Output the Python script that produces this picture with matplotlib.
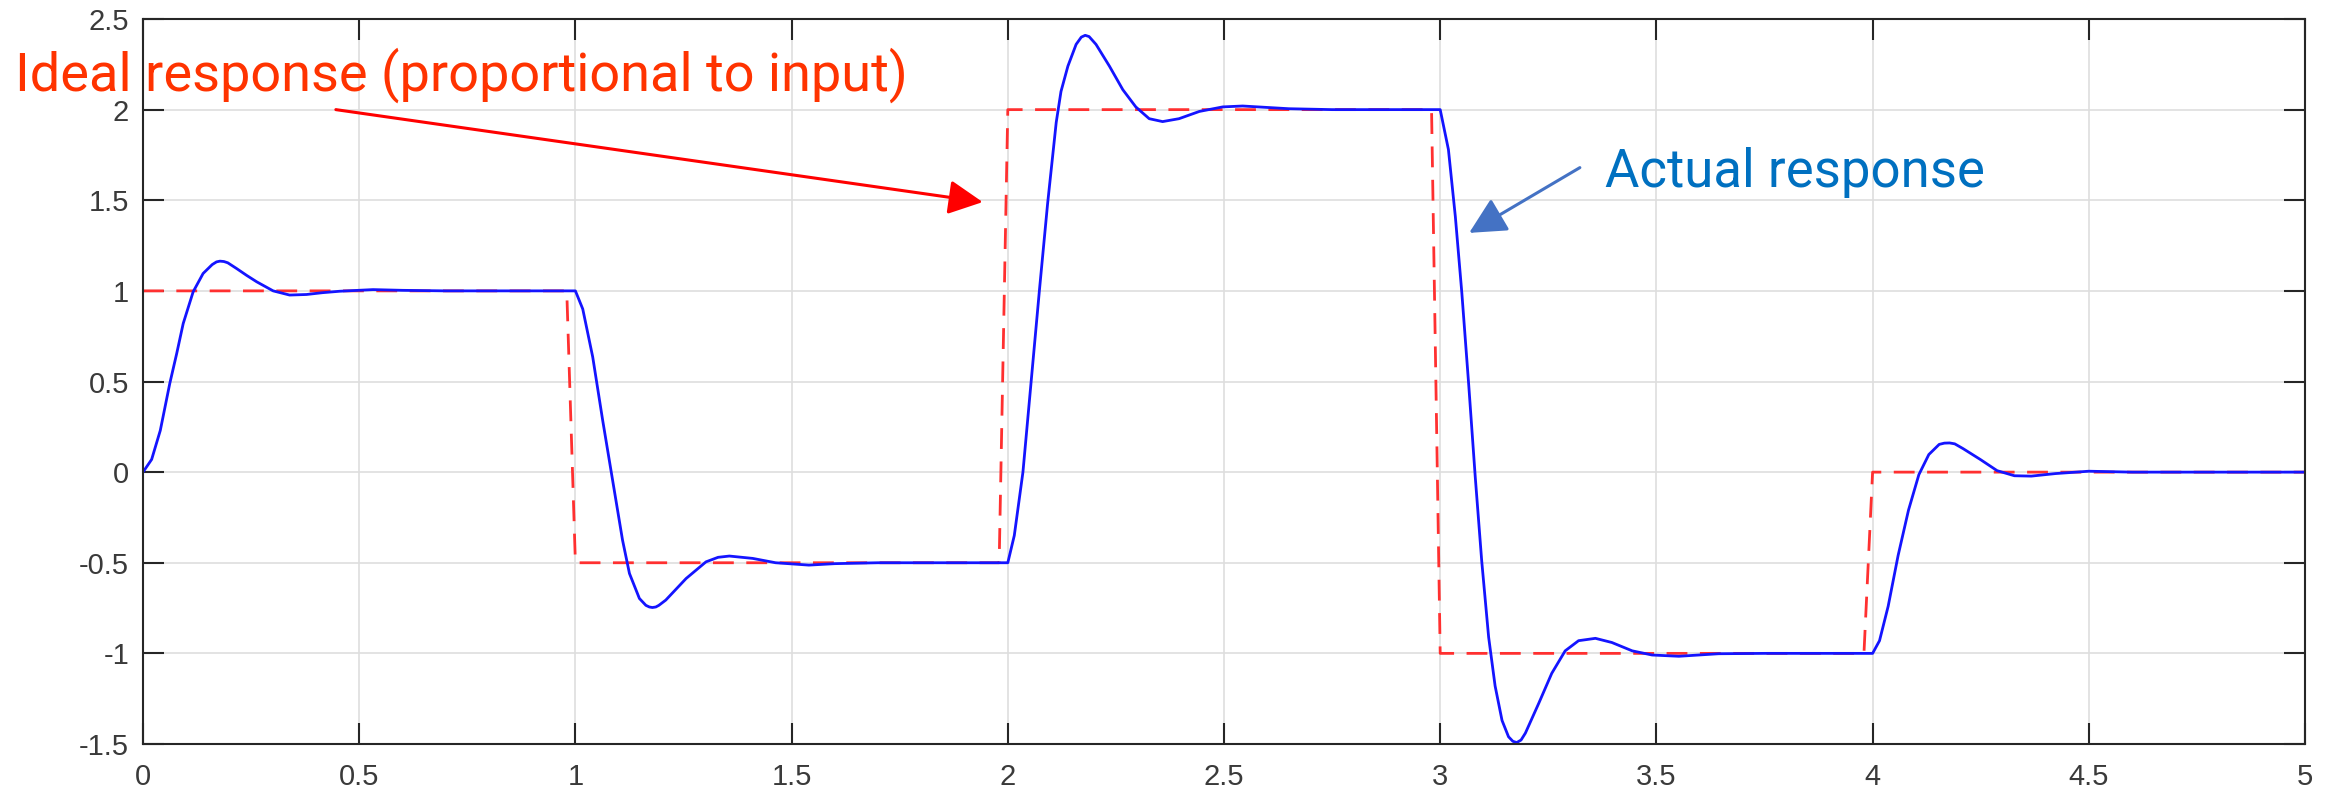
import matplotlib
matplotlib.use("Agg")
import matplotlib.pyplot as plt

# ideal (input) signal, red dashed
ideal_t = [0, 0.98, 1.0, 1.98, 2.0, 2.98, 3.0, 3.98, 4.0, 5.0]
ideal_y = [1, 1, -0.5, -0.5, 2, 2, -1, -1, 0, 0]

# actual response
resp_t = [0.0, 0.02, 0.04, 0.062, 0.078, 0.093, 0.116, 0.139, 0.16, 0.17, 0.178,
          0.187, 0.196, 0.216, 0.24, 0.263, 0.301, 0.339, 0.378, 0.415, 0.455, 0.532,
          0.6, 0.7, 1.0,
          1.017, 1.04, 1.063, 1.086, 1.109, 1.125, 1.148, 1.163, 1.171, 1.178, 1.186,
          1.193, 1.209, 1.256, 1.302, 1.33, 1.356, 1.41, 1.463, 1.54, 1.6, 1.7, 2.0,
          2.015, 2.035, 2.054, 2.073, 2.092, 2.112, 2.123, 2.139, 2.158, 2.17, 2.179,
          2.188, 2.204, 2.235, 2.266, 2.296, 2.327, 2.358, 2.396, 2.443, 2.497, 2.543,
          2.65, 2.75, 3.0,
          3.019, 3.035, 3.05, 3.066, 3.081, 3.096, 3.112, 3.127, 3.143, 3.158, 3.168,
          3.177, 3.187, 3.197, 3.228, 3.258, 3.289, 3.32, 3.359, 3.397, 3.444, 3.49,
          3.552, 3.644, 3.75, 4.0,
          4.016, 4.036, 4.059, 4.083, 4.107, 4.13, 4.154, 4.166, 4.178, 4.19, 4.209, 4.249,
          4.288, 4.328, 4.367, 4.423, 4.5, 4.6, 5.0]
resp_y = [0.0, 0.07, 0.23, 0.49, 0.655, 0.82, 0.995, 1.096, 1.145, 1.16, 1.164,
          1.162, 1.155, 1.124, 1.085, 1.05, 1.0, 0.977, 0.98, 0.99, 0.998, 1.007,
          1.003, 1.0, 1.0,
          0.9, 0.636, 0.287, -0.044, -0.375, -0.559, -0.697, -0.735, -0.744, -0.747, -0.744,
          -0.735, -0.706, -0.587, -0.495, -0.47, -0.463, -0.476, -0.5, -0.513, -0.505, -0.5, -0.5,
          -0.35, 0.0, 0.5, 1.0, 1.48, 1.93, 2.1, 2.24, 2.36, 2.4, 2.41,
          2.403, 2.36, 2.24, 2.11, 2.015, 1.95, 1.934, 1.95, 1.99, 2.015, 2.02,
          2.005, 2.0, 2.0,
          1.78, 1.41, 0.99, 0.48, -0.025, -0.49, -0.91, -1.18, -1.37, -1.46, -1.485,
          -1.492, -1.478, -1.44, -1.275, -1.11, -0.986, -0.93, -0.917, -0.94, -0.986, -1.009,
          -1.016, -1.002, -1.0, -1.0,
          -0.93, -0.74, -0.46, -0.21, -0.014, 0.097, 0.153, 0.16, 0.161, 0.156, 0.13, 0.07,
          0.008, -0.02, -0.022, -0.008, 0.005, 0.0, 0.0]

xticks = [0, 0.5, 1, 1.5, 2, 2.5, 3, 3.5, 4, 4.5, 5]
xlabels = ["0", "0.5", "1", "1.5", "2", "2.5", "3", "3.5", "4", "4.5", "5"]
yticks = [-1.5, -1, -0.5, 0, 0.5, 1, 1.5, 2, 2.5]
ylabels = ["-1.5", "-1", "-0.5", "0", "0.5", "1", "1.5", "2", "2.5"]

ideal_label = "Ideal response (proportional to input)"
actual_label = "Actual response"

fig = plt.figure(figsize=(23.38, 7.92), dpi=100)
ax = fig.add_axes([143 / 2338, 1 - 744 / 792, (2305 - 143) / 2338, (744 - 19) / 792])

ax.plot(ideal_t, ideal_y, color="#ff3030", lw=2.0, linestyle=(0, (7.5, 4.5)))
ax.plot(resp_t, resp_y, color="#1414ff", lw=2.0, solid_joinstyle="round")

ax.set_xlim(0, 5)
ax.set_ylim(-1.5, 2.5)
ax.set_xticks(xticks)
ax.set_xticklabels(xlabels)
ax.set_yticks(yticks)
ax.set_yticklabels(ylabels)

ax.grid(True, color="#dedede", lw=1.2)
ax.set_axisbelow(True)
for s in ax.spines.values():
    s.set_color("#262626")
    s.set_linewidth(1.5)
ax.tick_params(direction="in", length=15, width=1.5, color="#262626",
               top=True, right=True, labelcolor="#3a3a3a", labelsize=21)
ax.tick_params(axis="x", pad=14)
ax.tick_params(axis="y", pad=10)
for lab in ax.get_xticklabels() + ax.get_yticklabels():
    lab.set_fontfamily("Liberation Sans")

# annotations
ax.text(-0.297, 2.102, ideal_label, color="#ff3300", fontsize=39,
        family="Roboto", va="baseline", ha="left")
ax.annotate("", xy=(1.942, 1.49), xytext=(0.446, 2.0),
            arrowprops=dict(arrowstyle="-|>,head_length=0.7,head_width=0.35",
                            mutation_scale=30, lw=2.2, color="#ff0000",
                            shrinkA=0, shrinkB=0))

ax.text(3.38, 1.572, actual_label, color="#0070c0", fontsize=38,
        family="Roboto", va="baseline", ha="left")
ax.annotate("", xy=(3.067, 1.32), xytext=(3.323, 1.68),
            arrowprops=dict(arrowstyle="-|>,head_length=0.75,head_width=0.38",
                            mutation_scale=30, lw=2.2, color="#4472c4",
                            shrinkA=0, shrinkB=0))

fig.savefig("out.png", dpi=100)
